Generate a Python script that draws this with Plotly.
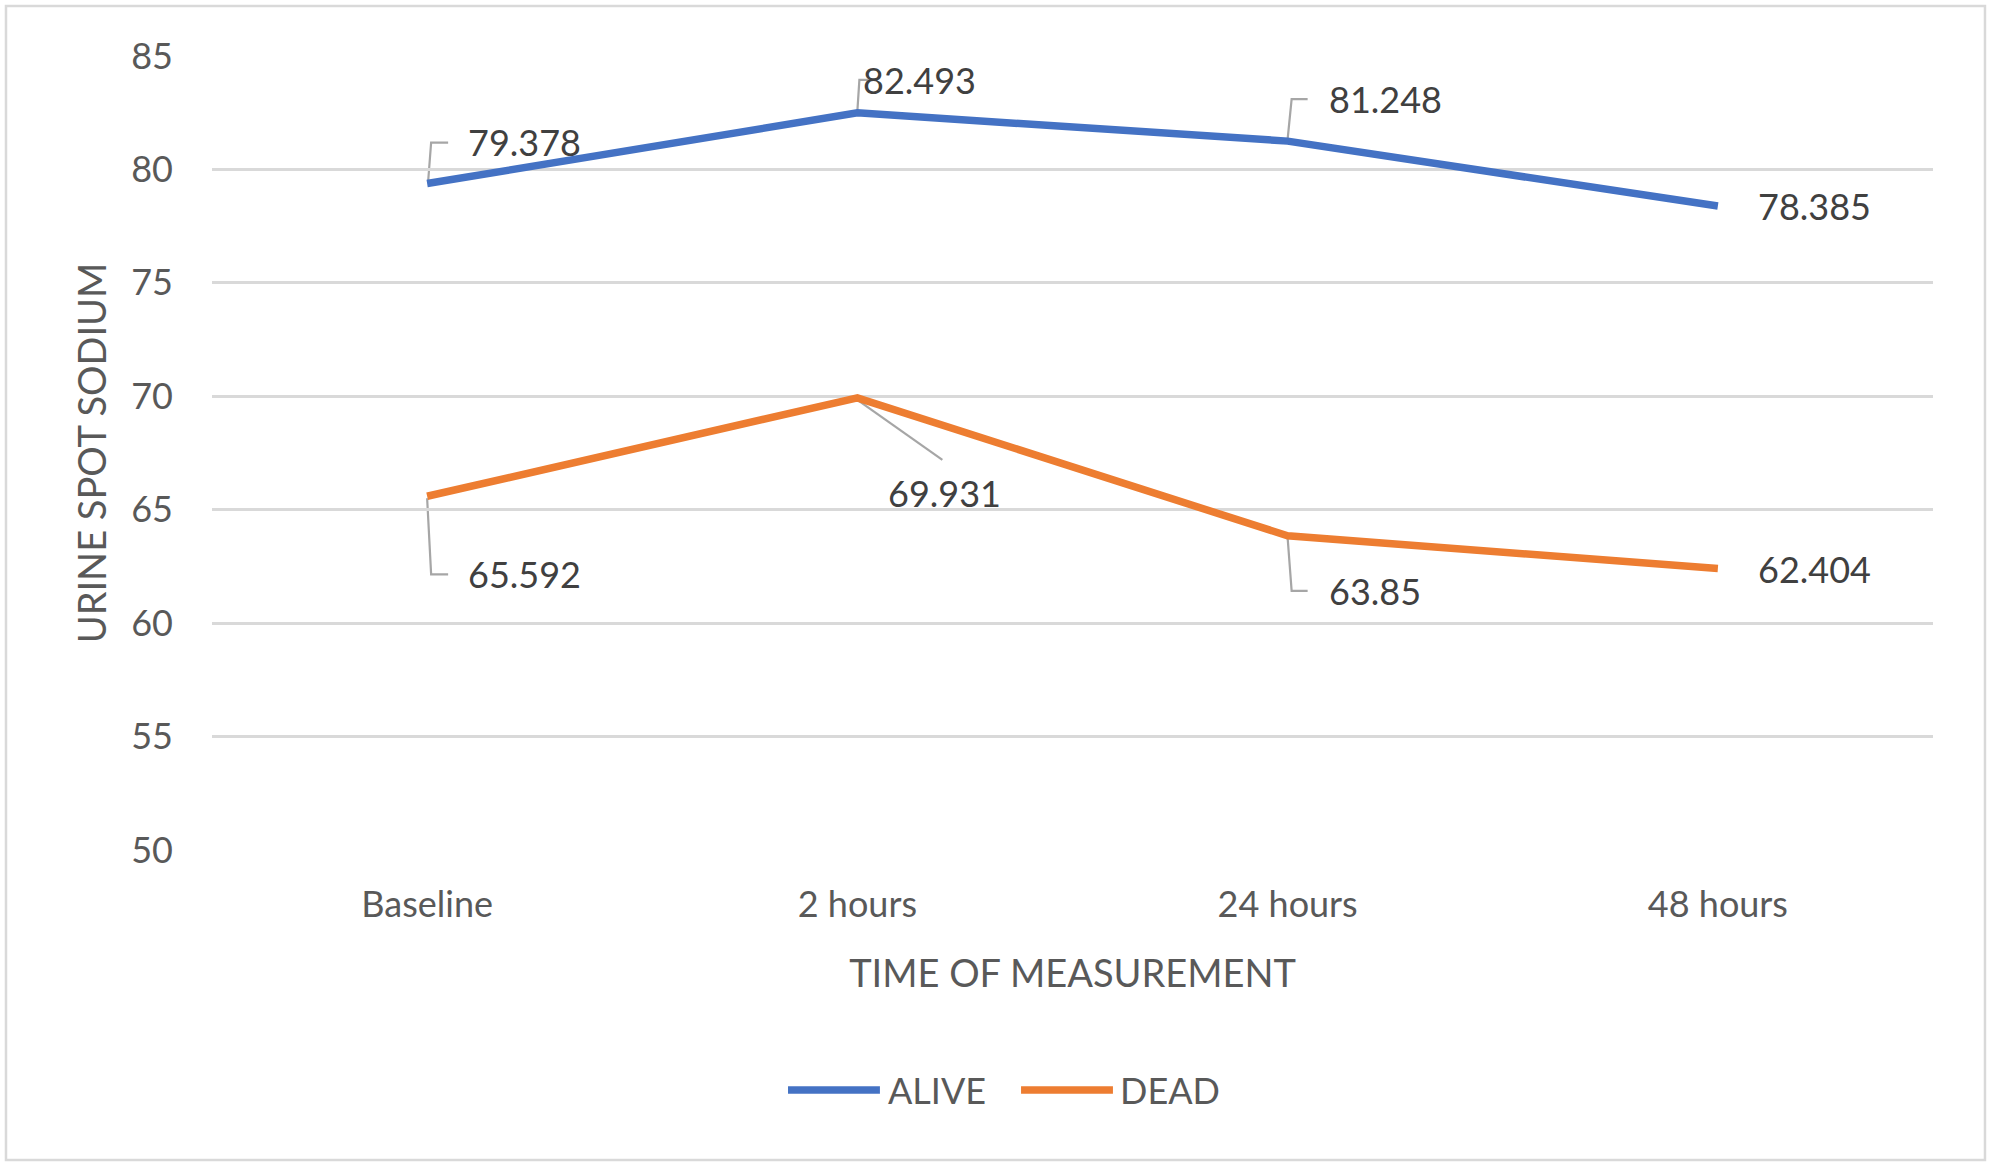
import plotly.graph_objects as go

categories = ["Baseline", "2 hours", "24 hours", "48 hours"]
alive = [79.378, 82.493, 81.248, 78.385]
dead = [65.592, 69.931, 63.85, 62.404]
alive_label = ["79.378", "82.493", "81.248", "78.385"]
dead_label = ["65.592", "69.931", "63.85", "62.404"]
y_ticks = [50, 55, 60, 65, 70, 75, 80, 85]

BLUE = "#4472C4"
ORANGE = "#ED7D31"
FONT = "Lato, 'Open Sans', Arial, sans-serif"
LEADER = "#A6A6A6"

fig = go.Figure()
fig.add_trace(go.Scatter(x=categories, y=alive, mode="lines", name="ALIVE",
                         line=dict(color=BLUE, width=7.5), showlegend=False))
fig.add_trace(go.Scatter(x=categories, y=dead, mode="lines", name="DEAD",
                         line=dict(color=ORANGE, width=7.5), showlegend=False))

# label offsets (pixels: dx to text left edge, dy up positive)
alive_off = [(39, 42), (4, 33), (39, 42), (38, 0)]
dead_off = [(39, -78), (29, -95), (39, -55), (38, 0)]
# leader paths in pixel offsets (y up positive)
alive_lead = ["M1,2 L4,41 L21,41", "M0,2 L2,33 L14,33", "M0,2 L4,42 L20,42", None]
dead_lead = ["M0,-2 L4,-78 L21,-78", "M0,-2 L85,-62", "M0,-2 L4,-55 L20,-55", None]

annotations = []
shapes = []
for vals, labs, offs, leads in [(alive, alive_label, alive_off, alive_lead),
                                (dead, dead_label, dead_off, dead_lead)]:
    for i, (v, lab, off, lead) in enumerate(zip(vals, labs, offs, leads)):
        annotations.append(dict(x=i, y=v, xref="x", yref="y", text=lab, showarrow=False,
                                xanchor="left", yanchor="middle", xshift=off[0], yshift=off[1],
                                font=dict(family=FONT, size=36, color="#404040")))
        if lead:
            shapes.append(dict(type="path", xref="x", yref="y", xsizemode="pixel",
                               ysizemode="pixel", xanchor=i, yanchor=v, path=lead,
                               line=dict(color=LEADER, width=2.2), layer="below"))

# chart border
shapes.append(dict(type="rect", xref="paper", yref="paper", x0=-0.1197, x1=1.0302,
                   y0=-0.3904, y1=1.063, line=dict(color="#D9D9D9", width=2.5)))

# legend (manual)
leg_y = -0.3023
for name, color, x0, x1, xt in [("ALIVE", BLUE, 0.3347, 0.3881, 0.3916),
                                ("DEAD", ORANGE, 0.4701, 0.5235, 0.5264)]:
    shapes.append(dict(type="line", xref="paper", yref="paper", x0=x0, x1=x1,
                       y0=leg_y, y1=leg_y, line=dict(color=color, width=7.5)))
    annotations.append(dict(x=xt, y=leg_y, xref="paper", yref="paper", text=name,
                            showarrow=False, xanchor="left", yanchor="middle",
                            font=dict(family=FONT, size=36, color="#595959")))

fig.update_layout(
    width=1993, height=1168,
    margin=dict(l=212, r=60, t=56, b=318),
    paper_bgcolor="white", plot_bgcolor="white",
    font=dict(family=FONT, color="#595959"),
    annotations=annotations, shapes=shapes,
    showlegend=False,
    xaxis=dict(type="category", range=[-0.5, 3.5], showgrid=False, zeroline=False,
               showline=False, ticks="", tickfont=dict(size=36, color="#595959"),
               ticklabelstandoff=30,
               title=dict(text="TIME OF MEASUREMENT", font=dict(size=38, color="#595959"),
                          standoff=36)),
    yaxis=dict(range=[50, 85], tickvals=y_ticks, showgrid=True, gridcolor="#D9D9D9",
               gridwidth=2.5, zeroline=False, showline=False, ticks="",
               tickfont=dict(size=36, color="#595959"), ticklabelstandoff=38,
               title=dict(text="URINE SPOT SODIUM", font=dict(size=38, color="#595959"),
                          standoff=12)),
)

fig.write_html("out.html")
